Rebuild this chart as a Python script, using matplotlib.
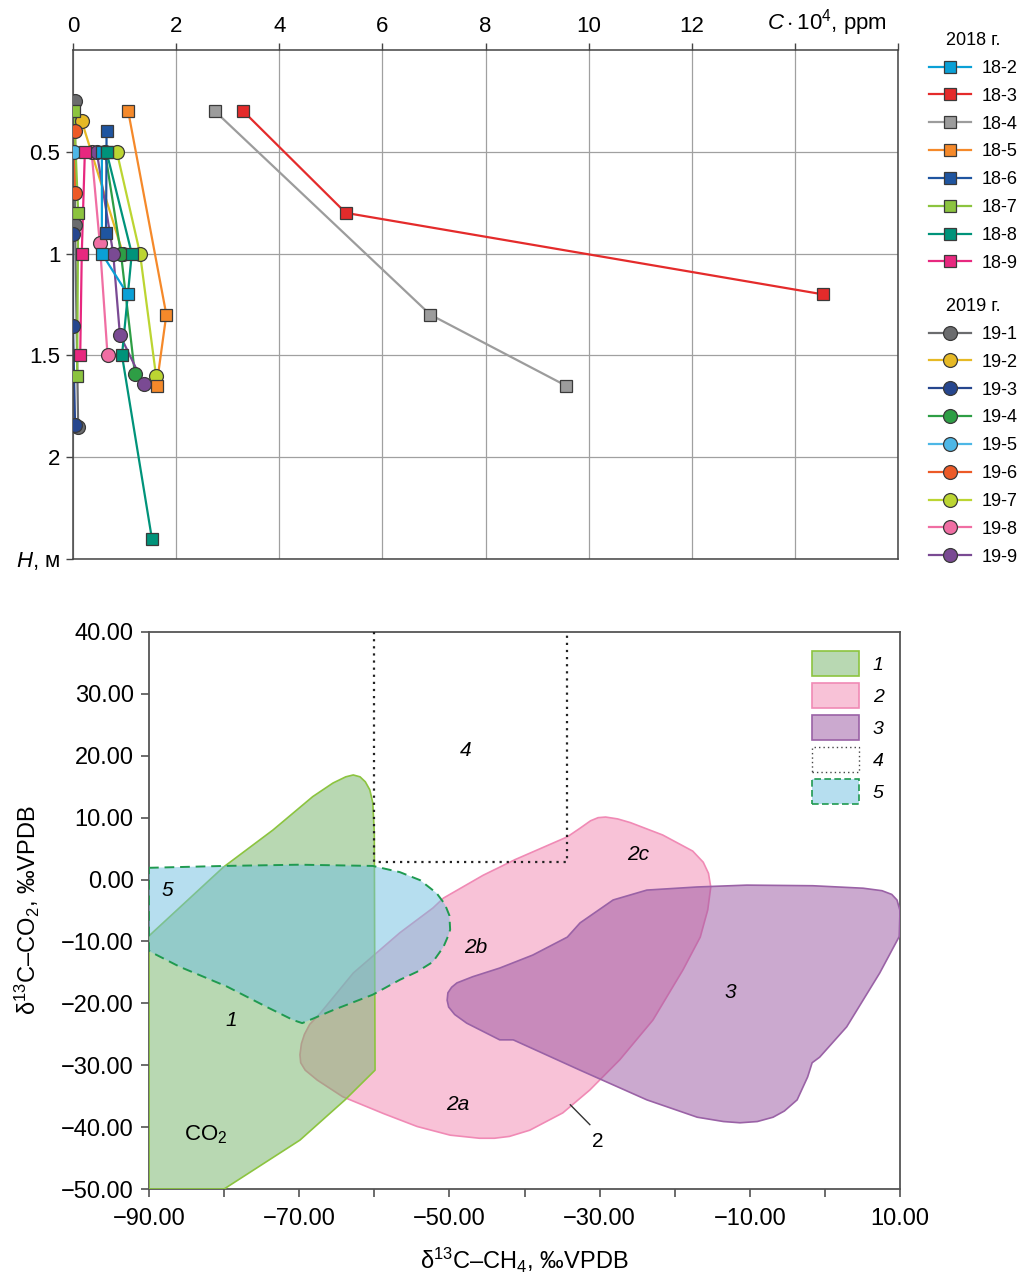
import numpy as np
import matplotlib
matplotlib.use("Agg")
import matplotlib.pyplot as plt
from matplotlib.patches import Polygon, Patch
from matplotlib.lines import Line2D

plt.rcParams['font.family'] = ['Liberation Sans', 'DejaVu Sans']
plt.rcParams['mathtext.fontset'] = 'custom'
plt.rcParams['mathtext.rm'] = 'Liberation Sans'
plt.rcParams['mathtext.it'] = 'Liberation Sans:italic'
plt.rcParams['mathtext.bf'] = 'Liberation Sans:bold'

# ---- top panel: concentration C*10^4 (ppm) vs depth H (m) ----
c_18_2 = [0.56, 0.56, 1.06]
h_18_2 = [0.50, 1.00, 1.20]
c_18_3 = [3.30, 5.29, 14.54]
h_18_3 = [0.30, 0.80, 1.20]
c_18_4 = [2.75, 6.93, 9.57]
h_18_4 = [0.30, 1.30, 1.65]
c_18_5 = [1.07, 1.81, 1.62]
h_18_5 = [0.30, 1.30, 1.65]
c_18_6 = [0.65, 0.65, 0.64]
h_18_6 = [0.40, 0.50, 0.90]
c_18_7 = [0.02, 0.10, 0.08]
h_18_7 = [0.30, 0.80, 1.60]
c_18_8 = [0.65, 1.14, 0.95, 1.53]
h_18_8 = [0.50, 1.00, 1.50, 2.40]
c_18_9 = [0.23, 0.17, 0.14]
h_18_9 = [0.50, 1.00, 1.50]

c_19_1 = [0.04, 0.04, 0.10]
h_19_1 = [0.25, 0.86, 1.85]
c_19_2 = [0.17, 0.97]
h_19_2 = [0.35, 1.00]
c_19_3 = [0.00, 0.00, 0.04]
h_19_3 = [0.905, 1.355, 1.84]
c_19_4 = [0.62, 0.93, 1.20]
h_19_4 = [0.50, 1.00, 1.59]
c_19_5 = [0.02]
h_19_5 = [0.50]
c_19_6 = [0.04, 0.04]
h_19_6 = [0.40, 0.70]
c_19_7 = [0.85, 1.30, 1.61]
h_19_7 = [0.50, 1.00, 1.60]
c_19_8 = [0.36, 0.52, 0.67]
h_19_8 = [0.50, 0.95, 1.50]
c_19_9 = [0.46, 0.78, 0.91, 1.37]
h_19_9 = [0.50, 1.00, 1.40, 1.64]

# ---- bottom panel: field outlines (d13C-CH4, d13C-CO2) ----
f1_x = [-90, -90, -80.1, -73.5, -68.2, -65.5, -63.8, -62.8, -61.9, -61.2, -60.6, -60.2, -60.0, -59.9, -63.9, -69.9, -80.0]
f1_y = [-50, -9.1, 2.0, 8.0, 13.4, 15.6, 16.6, 16.9, 16.6, 15.8, 14.5, 12.4, 7.5, -30.8, -35.6, -42.1, -50]

f2_x = [-69.9, -69.7, -69.3, -68.6, -67.2, -62.8, -56.6, -52.2, -50.8, -45.5, -41.3, -34.3, -32.6, -31.2, -30.2, -29.2,
        -27.6, -25.9, -21.6, -17.6, -16.2, -15.5, -15.2, -15.6, -16.6, -18.9, -22.9, -27.3, -31.3, -34.9, -39.3, -42.0,
        -44.0, -46.0, -49.9, -54.3, -58.8, -64.2, -67.6, -69.2, -69.8]
f2_y = [-28.3, -26.5, -25.0, -23.4, -21.6, -15.1, -8.6, -4.6, -3.0, 0.7, 3.2, 6.9, 8.3, 9.5, 10.0, 10.1,
        9.8, 9.2, 7.2, 4.6, 2.8, 1.0, -1.2, -4.9, -9.3, -14.6, -22.7, -29.1, -34.0, -37.7, -40.5, -41.5,
        -41.8, -41.8, -41.3, -39.9, -37.8, -35.1, -32.4, -30.8, -29.6]

f3_x = [-50.3, -50.2, -49.7, -49.0, -46.9, -43.3, -38.9, -34.3, -32.6, -28.2, -23.7, -17.0, -10.4, -1.6, 5.1,
        7.6, 8.9, 9.6, 10.0, 9.9, 7.3, 2.9, -0.7, -1.7, -2.3, -3.7, -5.4, -6.9, -9.0, -11.3, -13.5, -17.0, -23.7,
        -32.6, -41.5, -43.3, -47.7, -49.3, -50.1]
f3_y = [-19.5, -18.3, -17.4, -16.7, -15.7, -14.3, -12.2, -9.3, -7.0, -3.3, -1.7, -1.2, -0.9, -1.0, -1.4,
        -1.8, -2.4, -3.3, -5.0, -9.2, -15.1, -23.8, -28.7, -29.6, -31.9, -35.6, -37.4, -38.4, -39.1, -39.3, -39.1, -38.4, -35.6,
        -30.8, -25.9, -25.9, -23.2, -21.8, -20.6]

f4_x = [-60.0, -60.0, -34.3, -34.3]
f4_y = [40.0, 2.8, 2.8, 40.0]

f5_x = [-90, -80, -70, -60.2, -56.6, -53.9, -51.7, -50.6, -50.0, -49.9, -50.2, -50.8, -52.2, -54.3, -56.6,
        -60.2, -65.5, -68.6, -69.6, -70.8, -74.3, -79.6, -85.9, -89.6, -90]
f5_y = [1.9, 2.2, 2.4, 2.2, 1.2, -0.1, -2.2, -4.0, -5.8, -8.1, -9.2, -10.9, -13.3, -14.9, -16.2,
        -18.6, -21.1, -22.7, -23.2, -22.7, -20.6, -17.3, -14.1, -11.8, -11.5]

fig = plt.figure(figsize=(10.19, 12.75), dpi=100)

# ================= top panel =================
ax1 = fig.add_axes([73 / 1019, 1 - 559 / 1275, 825 / 1019, 509 / 1275])

series18 = [
    ('18-2', c_18_2, h_18_2, '#0aa0d6'),
    ('18-3', c_18_3, h_18_3, '#e42b2b'),
    ('18-4', c_18_4, h_18_4, '#9c9c9c'),
    ('18-5', c_18_5, h_18_5, '#f5892a'),
    ('18-6', c_18_6, h_18_6, '#1f55a0'),
    ('18-7', c_18_7, h_18_7, '#8cc43f'),
    ('18-8', c_18_8, h_18_8, '#00937a'),
    ('18-9', c_18_9, h_18_9, '#e7287f'),
]
series19 = [
    ('19-1', c_19_1, h_19_1, '#6b6c6e'),
    ('19-2', c_19_2, h_19_2, '#e6b925'),
    ('19-3', c_19_3, h_19_3, '#26468e'),
    ('19-4', c_19_4, h_19_4, '#2e9e45'),
    ('19-5', c_19_5, h_19_5, '#4db7e6'),
    ('19-6', c_19_6, h_19_6, '#ec5a27'),
    ('19-7', c_19_7, h_19_7, '#bcd532'),
    ('19-8', c_19_8, h_19_8, '#f06ea3'),
    ('19-9', c_19_9, h_19_9, '#7a4a93'),
]

edge = '#3a3a3a'
for name, c, h, col in series19 + series18:
    ax1.plot(c, h, '-', color=col, lw=1.6, zorder=2)
for name, c, h, col in series19:
    ax1.plot(c, h, 'o', ms=10, mfc=col, mec=edge, mew=0.9, ls='none', zorder=3)
for name, c, h, col in series18:
    ax1.plot(c, h, 's', ms=8.5, mfc=col, mec=edge, mew=0.9, ls='none', zorder=4)

ax1.set_xlim(0, 16)
ax1.set_ylim(2.5, 0)
ax1.xaxis.tick_top()
ax1.set_xticks(range(0, 17, 2))
ax1.set_xticklabels(['0', '2', '4', '6', '8', '10', '12', '', ''])
ax1.set_yticks([0.5, 1, 1.5, 2, 2.5])
ax1.set_yticklabels(['0.5', '1', '1.5', '2', '$H$, м'])
ax1.tick_params(axis='both', labelsize=16, length=5, width=1, color='#444', pad=4)
ax1.grid(True, color='#a0a0a0', lw=0.9)
ax1.set_axisbelow(True)
for sp in ax1.spines.values():
    sp.set_color('#444')
    sp.set_linewidth(1.1)
ax1.annotate(r'$C\cdot$10$^4$, ppm', xy=(13.45, 1), xycoords=ax1.get_xaxis_transform(),
             xytext=(0, 9), textcoords='offset points', fontsize=16, va='bottom', ha='left')

def make_handles(series, marker, ms):
    return [Line2D([], [], color=col, lw=1.6, marker=marker, ms=ms, mfc=col, mec=edge, mew=0.9)
            for name, c, h, col in series]

leg_kw = dict(frameon=False, fontsize=13, title_fontsize=13, handlelength=2.3, handletextpad=0.6,
              labelspacing=0.6, borderpad=0, loc='upper left')
fig.legend(make_handles(series18, 's', 8.5), [s[0] for s in series18], title='2018 г.',
           bbox_to_anchor=(920 / 1019, 1 - 23 / 1275), **leg_kw)
fig.legend(make_handles(series19, 'o', 10), [s[0] for s in series19], title='2019 г.',
           bbox_to_anchor=(920 / 1019, 1 - 289 / 1275), **leg_kw)

# ================= bottom panel =================
ax2 = fig.add_axes([149 / 1019, 1 - 1189 / 1275, 751 / 1019, 557 / 1275])

c_pink = (0.953, 0.53, 0.694, 0.5)
c_purple = (0.60, 0.33, 0.63, 0.5)
c_green = (0.45, 0.70, 0.40, 0.5)
c_blue = (0.435, 0.75, 0.88, 0.5)

p2 = Polygon(np.column_stack([f2_x, f2_y]), closed=True, fc=c_pink, ec='#f08ab5', lw=1.2, joinstyle='round', zorder=2)
p3 = Polygon(np.column_stack([f3_x, f3_y]), closed=True, fc=c_purple, ec='#9a62a6', lw=1.2, joinstyle='round', zorder=3)
p1 = Polygon(np.column_stack([f1_x, f1_y]), closed=True, fc=c_green, ec='#8cc43f', lw=1.2, joinstyle='round', zorder=4)
p5 = Polygon(np.column_stack([f5_x, f5_y]), closed=True, fc=c_blue, ec='#1f9a50', lw=1.4,
             ls=(0, (5, 3)), joinstyle='round', zorder=5)
for p in (p2, p3, p1, p5):
    ax2.add_patch(p)
ax2.plot(f4_x, f4_y, color='#222', lw=1.6, ls=(0, (1, 2.2)), zorder=6)

# leader line for label "2"
ax2.plot([-33.9, -31.3], [-36.4, -39.6], color='#333', lw=1.0, zorder=6)

lab_kw = dict(fontsize=15, style='italic', ha='center', va='center', zorder=7)
ax2.text(-47.8, 20.9, '4', **lab_kw)
ax2.text(-24.9, 4.0, '2c', **lab_kw)
ax2.text(-87.5, -1.7, '5', **lab_kw)
ax2.text(-46.5, -10.9, '2b', **lab_kw)
ax2.text(-12.6, -18.3, '3', **lab_kw)
ax2.text(-79.1, -22.7, '1', **lab_kw)
ax2.text(-48.9, -36.4, '2a', **lab_kw)
ax2.text(-30.2, -42.4, '2', fontsize=15, ha='center', va='center', zorder=7)
ax2.text(-82.5, -41.3, 'CO$_2$', fontsize=16, ha='center', va='center', zorder=7)

ax2.set_xlim(-90, 10)
ax2.set_ylim(-50, 40)
fmt = lambda v: f'{v:.2f}'.replace('-', '\u2212')
xt = [-90, -70, -50, -30, -10, 10]
ax2.set_xticks(xt)
ax2.set_xticklabels([fmt(v) for v in xt])
ax2.set_xticks([-80, -60, -40, -20, 0], minor=True)
yt = list(range(-50, 41, 10))
ax2.set_yticks(yt)
ax2.set_yticklabels([fmt(v) for v in yt])
ax2.tick_params(axis='both', which='both', labelsize=17, length=6, width=1.1, color='#444', pad=5)
ax2.tick_params(axis='x', which='major', pad=8)
for sp in ax2.spines.values():
    sp.set_color('#555')
    sp.set_linewidth(1.3)
ax2.set_xlabel('δ$^{13}$C–CH$_4$, ‰VPDB', fontsize=17, labelpad=11)
ax2.set_ylabel('δ$^{13}$C–CO$_2$, ‰VPDB', fontsize=17, labelpad=14)

leg_handles = [
    Patch(fc=c_green, ec='#8cc43f', lw=1.2),
    Patch(fc=c_pink, ec='#f08ab5', lw=1.2),
    Patch(fc=c_purple, ec='#9a62a6', lw=1.2),
    Patch(fc='none', ec='#444', lw=1.0, ls=(0, (1, 2.2))),
    Patch(fc=c_blue, ec='#1f9a50', lw=1.2, ls=(0, (4, 2))),
]
leg2 = ax2.legend(leg_handles, ['1', '2', '3', '4', '5'], loc='upper left', frameon=False,
                  bbox_to_anchor=(802 / 1019, 1 - 641 / 1275), bbox_transform=fig.transFigure,
                  fontsize=14, handlelength=2.45, handleheight=1.6, labelspacing=0.36, handletextpad=0.7,
                  borderpad=0)
for t in leg2.get_texts():
    t.set_style('italic')

fig.savefig('out.png', dpi=100)
